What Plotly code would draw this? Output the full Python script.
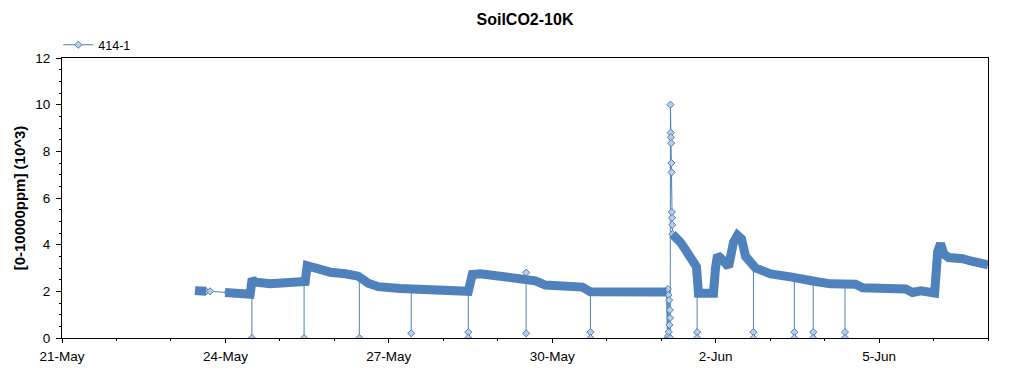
import plotly.graph_objects as go

# ---- data ----
main_times = [
    "2012-05-23 10:36", "2012-05-23 13:00", "2012-05-23 15:30", "2012-05-23 20:00",
    "2012-05-23 23:52", "2012-05-24 06:30", "2012-05-24 10:54", "2012-05-24 11:47",
    "2012-05-24 12:40", "2012-05-24 19:43", "2012-05-25 04:32", "2012-05-25 11:09",
    "2012-05-25 12:02", "2012-05-25 15:33", "2012-05-25 22:10", "2012-05-26 04:47",
    "2012-05-26 10:31", "2012-05-26 14:56", "2012-05-26 19:20", "2012-05-27 05:02",
    "2012-05-27 18:16", "2012-05-28 05:17", "2012-05-28 11:01", "2012-05-28 12:47",
    "2012-05-28 16:19", "2012-05-29 01:07", "2012-05-29 12:09", "2012-05-29 16:33",
    "2012-05-29 20:58", "2012-05-30 08:00", "2012-05-30 13:18", "2012-05-30 16:50",
    "2012-05-31 06:03", "2012-05-31 19:16", "2012-06-01 02:20", "2012-06-01 03:30",
    "2012-06-01 04:58", "2012-06-01 06:44", "2012-06-01 08:30", "2012-06-01 10:15",
    "2012-06-01 12:54", "2012-06-01 15:33", "2012-06-01 16:26", "2012-06-01 23:03",
    "2012-06-01 23:56", "2012-06-02 00:49", "2012-06-02 03:01", "2012-06-02 05:40",
    "2012-06-02 07:52", "2012-06-02 09:38", "2012-06-02 11:24", "2012-06-02 13:10",
    "2012-06-02 17:34", "2012-06-03 00:11", "2012-06-03 09:00", "2012-06-03 15:37",
    "2012-06-03 20:02", "2012-06-04 02:38", "2012-06-04 13:40", "2012-06-04 16:45",
    "2012-06-05 02:54", "2012-06-05 11:43", "2012-06-05 14:48", "2012-06-05 18:20",
    "2012-06-06 00:30", "2012-06-06 01:49", "2012-06-06 03:06", "2012-06-06 04:30",
    "2012-06-06 06:40", "2012-06-06 11:05", "2012-06-06 12:50", "2012-06-06 16:22",
    "2012-06-06 20:47", "2012-06-07 00:00",
]
main_values = [
    2.03, 1.98, 2.00, None,
    1.95, 1.90, 1.88, 2.55,
    2.40, 2.33, 2.37, 2.42,
    3.10, 3.00, 2.82, 2.75,
    2.65, 2.35, 2.20, 2.12,
    2.03, 2.05, 2.00, 2.72,
    2.75, 2.65, 2.50, 2.45,
    2.27, 2.25, 2.18, 1.98,
    1.97, 1.97, 1.97, None,
    4.45, 4.30, 4.10, 3.85,
    3.50, 3.05, 1.92, 1.92,
    3.00, 3.55, 3.35, 3.05,
    4.10, 4.40, 4.25, 3.50,
    3.00, 2.75, 2.62, 2.55,
    2.42, 2.32, 2.30, 2.15,
    2.10, 2.10, 1.95, 2.02,
    1.93, 3.70, 4.05, 3.60,
    3.45, 3.48, 3.40, 3.30,
    3.20, 3.13,
]

# isolated readings joined by a plain line (gap on 23-May)
gap_times = ["2012-05-23 15:30", "2012-05-23 17:15", "2012-05-24 01:00"]
gap_values = [2.00, 2.00, 1.95]

# spike on 1-Jun
spike_times = [
    "2012-06-01 02:20", "2012-06-01 02:46", "2012-06-01 02:55", "2012-06-01 03:05",
    "2012-06-01 03:12", "2012-06-01 03:20", "2012-06-01 03:30", "2012-06-01 03:39",
    "2012-06-01 03:48", "2012-06-01 03:55", "2012-06-01 04:00", "2012-06-01 04:05",
    "2012-06-01 04:12", "2012-06-01 04:18", "2012-06-01 04:24", "2012-06-01 04:31",
    "2012-06-01 04:36", "2012-06-01 04:42", "2012-06-01 04:48", "2012-06-01 04:53",
    "2012-06-01 04:58",
]
spike_values = [
    1.97, 0.00, 2.10, 0.09,
    1.84, 0.26, 1.62, 0.56,
    1.20, 0.86, 0.00, 10.00,
    8.80, 8.60, 8.35, 7.50,
    7.10, 5.40, 5.15, 4.85,
    4.45,
]

# single-reading dropouts
drop_times = [
    "2012-05-24 11:40", "2012-05-25 10:40", "2012-05-26 11:00", "2012-05-27 09:53",
    "2012-05-28 11:01", "2012-05-29 12:30", "2012-05-30 16:50", "2012-06-01 15:50",
    "2012-06-02 16:40", "2012-06-03 10:40", "2012-06-03 19:00", "2012-06-04 09:00",
]
drop_tops = [2.35, 2.40, 2.62, 2.10, 2.00, 2.80, 2.00, 3.05, 3.05, 2.60, 2.45, 2.30]
drop_mids = [None, None, None, None, 0.25, None, 0.25, 0.25, 0.25, 0.25, 0.25, 0.25]
drop_bottoms = [0.0, 0.0, 0.0, 0.2, 0.0, 0.2, 0.0, 0.0, 0.0, 0.0, 0.0, 0.0]

series_name = "414-1"
title_text = "SoilCO2-10K"
y_title = "[0-10000ppm] (10^3)"
x_range = ["2012-05-21", "2012-06-07"]
y_range = [0, 12]

# ---- build thin (marker) trace ----
thin_x, thin_y = [], []
thin_x += gap_times + [None]
thin_y += gap_values + [None]
for t, top, mid, bot in zip(drop_times, drop_tops, drop_mids, drop_bottoms):
    thin_x.append(t); thin_y.append(top)
    if mid is not None:
        thin_x.append(t); thin_y.append(mid)
    thin_x.append(t); thin_y.append(bot)
    thin_x.append(None); thin_y.append(None)
thin_x += spike_times
thin_y += spike_values

LINE = "#4F81BD"
FILL = "#B9CDE5"
FONT = "Liberation Sans, Arial, sans-serif"

fig = go.Figure()
fig.add_trace(go.Scatter(
    x=thin_x, y=thin_y, mode="lines+markers", name=series_name,
    line=dict(color=LINE, width=1),
    marker=dict(symbol="diamond", size=5.5, color=FILL, line=dict(color=LINE, width=1)),
    showlegend=True,
))
fig.add_trace(go.Scatter(
    x=main_times, y=main_values, mode="lines", name=series_name,
    line=dict(color=LINE, width=9), showlegend=False,
))

DAY = 86400000
# the page body adds an 8px offset, so margins are reduced accordingly
fig.update_layout(
    width=1024, height=375,
    margin=dict(l=54, r=44, t=50, b=45, autoexpand=False),
    paper_bgcolor="white", plot_bgcolor="white",
    font=dict(family=FONT, size=13.5, color="black"),
    title=dict(text=title_text, x=0.5, xanchor="center", xref="paper",
               y=1 - 11 / 375, yref="container", yanchor="middle",
               font=dict(family=FONT, size=16, weight="bold", color="black")),
    legend=dict(x=-0.004, xanchor="left", y=1.046, yanchor="middle",
                bgcolor="rgba(0,0,0,0)", font=dict(family=FONT, size=12.5)),
    xaxis=dict(
        type="date", range=x_range, tickmode="linear", tick0="2012-05-21", dtick=3 * DAY,
        tickformat="%-d-%b", showgrid=False, zeroline=False, automargin=False,
        showline=True, linecolor="black", linewidth=1, mirror=True,
        ticks="outside", ticklen=4, tickcolor="black", ticklabelstandoff=2,
        minor=dict(dtick=DAY, tick0="2012-05-21", ticks="outside", ticklen=2,
                   tickcolor="black", showgrid=False),
    ),
    xaxis2=dict(
        type="date", range=x_range, overlaying="x", anchor="y", side="bottom",
        tickmode="linear", tick0="2012-05-21", dtick=3 * DAY, automargin=False,
        showticklabels=False, showgrid=False, zeroline=False, showline=False,
        ticks="inside", ticklen=5, tickcolor="black", mirror="ticks",
        minor=dict(dtick=DAY, tick0="2012-05-21", ticks="inside", ticklen=2,
                   tickcolor="black", showgrid=False),
    ),
    yaxis=dict(
        range=y_range, tickmode="linear", tick0=0, dtick=2, automargin=False,
        showgrid=False, zeroline=False,
        showline=True, linecolor="black", linewidth=1, mirror=True,
        ticks="outside", ticklen=5, tickcolor="black", ticklabelstandoff=3,
        minor=dict(dtick=0.5, ticks="outside", ticklen=2, tickcolor="black", showgrid=False),
        title=dict(text=y_title, standoff=6,
                   font=dict(family=FONT, size=15, weight="bold", color="black")),
    ),
    yaxis2=dict(
        range=y_range, overlaying="y", anchor="x", side="left", automargin=False,
        tickmode="linear", tick0=0, dtick=2,
        showticklabels=False, showgrid=False, zeroline=False, showline=False,
        ticks="inside", ticklen=5, tickcolor="black", mirror="ticks",
        minor=dict(dtick=0.5, ticks="inside", ticklen=2, tickcolor="black", showgrid=False),
    ),
)

fig.write_html("out.html")
